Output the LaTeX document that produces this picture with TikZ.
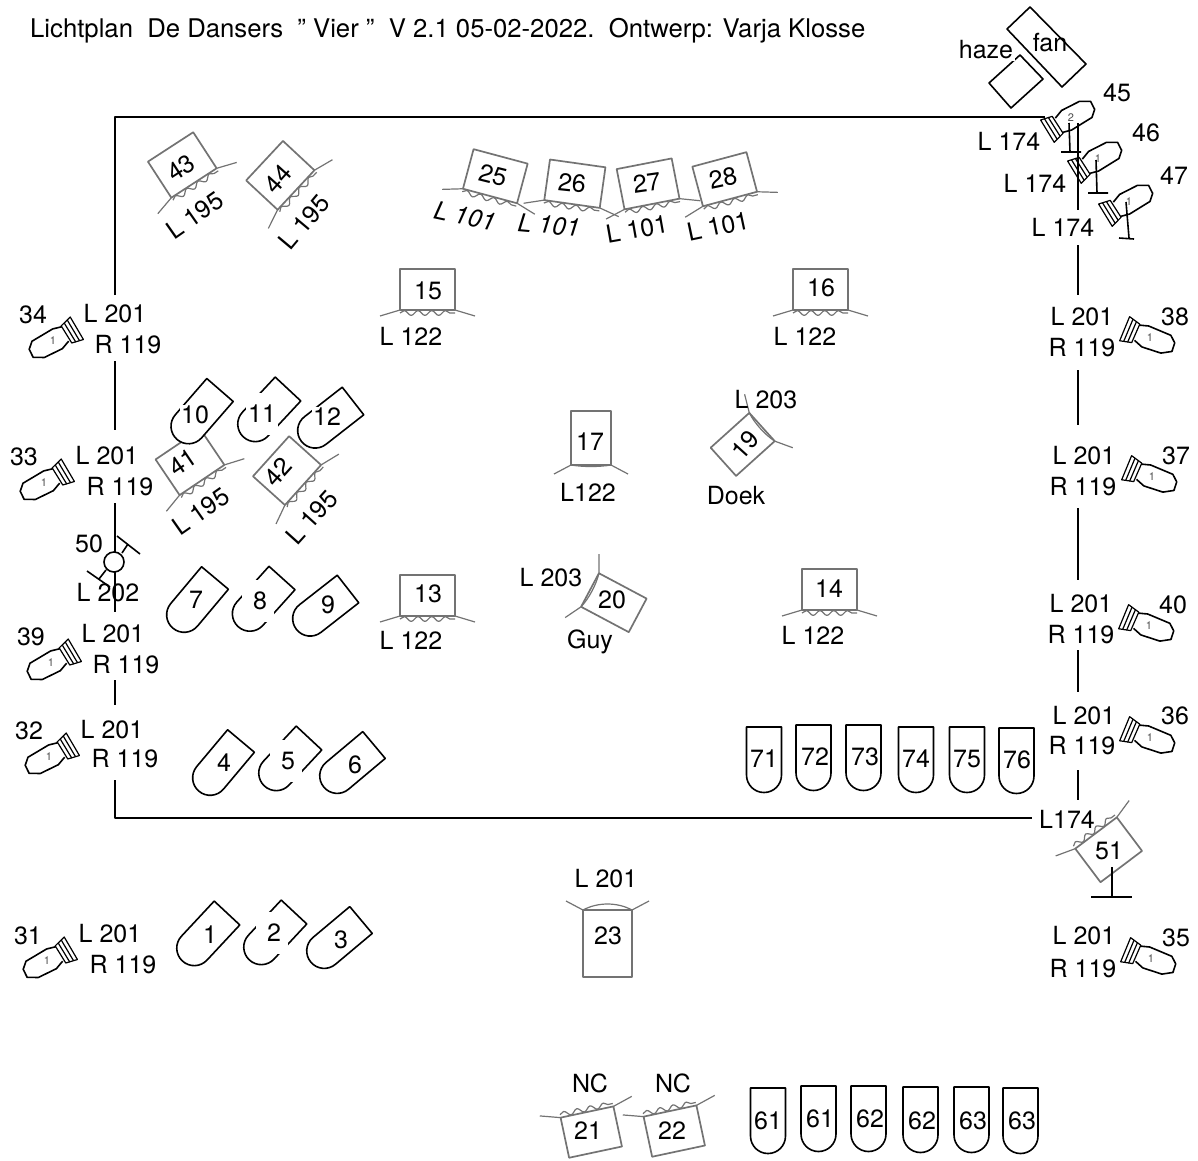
\documentclass[tikz,border=0pt]{standalone}
\usepackage{fontspec}
\setmainfont{TeX Gyre Heros}
\usetikzlibrary{decorations.pathmorphing}
\definecolor{gelgray}{gray}{0.45}
\tikzset{
  wire/.style={black,line width=2pt},
  thinwire/.style={black,line width=1.6pt},
  gel/.style={gelgray,line width=1.7pt},
  parnum/.style={fill=white,inner sep=1pt},
  parwide/.style={parnum,minimum width=32,minimum height=42},
  pics/gelframe/.style 2 args={code={
    \draw[gel,fill=white] (-#1,-#2) rectangle (#1,0);
    \draw[gel,line width=1.2pt,decorate,decoration={snake,amplitude=2.4,segment length=#1/2}] (-#1,3) -- (#1,3);
    \draw[gel,line width=1.2pt] (-#1-20,6) -- (-#1,0) (#1,0) -- (#1+20,6);
  }},
  pics/bareframe/.style n args={3}{code={
    \draw[gel,fill=white] (-#1,-#2) rectangle (#1,0);
    \draw[gel,line width=1.2pt] (-#1,0) .. controls (-#1*.4,#3) and (#1*.4,#3) .. (#1,0);
    \draw[gel,line width=1.2pt] (-#1-17,9) -- (-#1,0) (#1,0) -- (#1+17,9);
  }},
  pics/par/.style={code={
    \draw[thinwire,fill=white] (-17.5,0) -- (17.5,0) -- (17.5,48)
      .. controls (17.5,57.7) and (9.7,65.5) .. (0,65.5)
      .. controls (-9.7,65.5) and (-17.5,57.7) .. (-17.5,48) -- cycle;
  }},
  pics/profile/.style={code={
    \draw[thinwire] (14,-9) -- (5,-11) -- (-19,-9) -- (-25,-3) -- (-25,6) -- (-15,11) -- (5,11) -- (14,7);
    \draw[black,line width=1.2pt] (14,-10) -- (26,-14) -- (28,12) -- (16,10) -- cycle;
    \draw[black,line width=1.2pt] (18,-11) -- (20,11) (22,-12.5) -- (24,11.5);
    \node[font=\fontsize{11}{12}\selectfont,text=black!70] (-num) at (0,0) {#1};
  }}
}
\begin{document}
\begin{tikzpicture}[x=1pt,y=-1pt,line join=round,font=\fontsize{25}{29}\selectfont,every node/.style={inner sep=0pt}]
  \useasboundingbox (0,0) rectangle (1198,1160);
  % Title
  \node[anchor=west,font=\fontsize{25.7}{29}\selectfont] (title) at (30,31) {Lichtplan\ \ De Dansers\ \ \char34\ Vier \char34\ \ V 2.1 05-02-2022.\ \ Ontwerp: Varja Klosse};
  % Outline of the stage
  \draw[wire] (115,295) -- (115,117) -- (1045,117);
  \draw[wire] (115,361) -- (115,430);
  \draw[wire] (115,503) -- (115,612);
  \draw[wire] (115,680) -- (115,705);
  \draw[wire] (115,780) -- (115,818) -- (1032,818);
  \draw[wire] (1078,123) -- (1078,210);
  \draw[wire] (1078,245) -- (1078,295);
  \draw[wire] (1078,370) -- (1078,425);
  \draw[wire] (1078,508) -- (1078,580);
  \draw[wire] (1078,650) -- (1078,692);
  \draw[wire] (1078,770) -- (1078,800);
  % Fan and haze
  \draw[thinwire] (1030,7) -- (1086,64) -- (1062,87) -- (1007,29) -- cycle;
  \draw[thinwire] (1020,55) -- (1043,79) -- (1011,108) -- (989,83) -- cycle;
  \node[fill=white,inner sep=2pt] (haze) at (986,50) {haze};
  \node (fan) at (1050,43) {fan};
  % Frames with gel
  \pic[rotate=33] (g43) at (194,183) {gelframe={27}{43}};
  \pic[rotate=47] (g44) at (296,190) {gelframe={27}{43}};
  \pic[rotate=34] (g41) at (202,480) {gelframe={27}{43}};
  \pic[rotate=48] (g42) at (303,485) {gelframe={27}{43}};
  \pic[rotate=-15] (g25) at (490,196) {gelframe={28}{41}};
  \pic[rotate=-8] (g26) at (572,204) {gelframe={28}{41}};
  \pic[rotate=11] (g27) at (652,204) {gelframe={28}{41}};
  \pic[rotate=15] (g28) at (730,199) {gelframe={28}{41}};
  \pic (g15) at (427.5,310) {gelframe={27.5}{41}};
  \pic (g16) at (820.5,310) {gelframe={27.5}{41}};
  \pic (g13) at (427.5,616) {gelframe={27.5}{41}};
  \pic (g14) at (829.5,610) {gelframe={27.5}{41}};
  \pic[rotate=12,yscale=-1] (g21) at (587,1112) {gelframe={27}{41}};
  \pic[rotate=12,yscale=-1] (g22) at (670,1111) {gelframe={27}{41}};
  \pic[rotate=37,yscale=-1] (g51) at (1096,833) {gelframe={26}{42}};
  \pic (g17) at (591,465) {bareframe={20}{54}{2}};
  \pic[rotate=132] (g19) at (762,427) {bareframe={19}{52}{-3}};
  \pic[rotate=-118] (g20) at (590,590) {bareframe={19}{54}{-3}};
  \pic[yscale=-1] (g23) at (607.5,910) {bareframe={24.5}{67}{8}};
  % Pars on the floor
  \pic[rotate=-43] (p1) at (227,913) {par};
  \pic[rotate=-43] (p2) at (294,912) {par};
  \pic[rotate=-50] (p3) at (361,920) {par};
  \pic[rotate=-40] (p4) at (241,741) {par};
  \pic[rotate=-43] (p5) at (309,738) {par};
  \pic[rotate=-50] (p6) at (374,745) {par};
  \pic[rotate=-40] (p7) at (215,578) {par};
  \pic[rotate=-42] (p8) at (282,578) {par};
  \pic[rotate=-52] (p9) at (348,589) {par};
  \pic[rotate=-41] (p10) at (220,390) {par};
  \pic[rotate=-43] (p11) at (288,389) {par};
  \pic[rotate=-52] (p12) at (353,401) {par};
  \pic (p71) at (764,727) {par};
  \pic (p72) at (813.5,725) {par};
  \pic (p73) at (863.5,725) {par};
  \pic (p74) at (916,727) {par};
  \pic (p75) at (967,727) {par};
  \pic (p76) at (1016.5,728) {par};
  \pic (p61a) at (768,1088) {par};
  \pic (p61b) at (818.5,1086) {par};
  \pic (p62a) at (868.5,1086) {par};
  \pic (p62b) at (920.5,1087) {par};
  \pic (p63a) at (971.5,1087) {par};
  \pic (p63b) at (1020.5,1088) {par};
  % Profiles left, right and on the corner
  \pic[rotate=26] (s34) at (53,341) {profile=1};
  \pic[rotate=26] (s33) at (44,483) {profile=1};
  \pic[rotate=26] (s39) at (51,663) {profile=1};
  \pic[rotate=26] (s32) at (49,757) {profile=1};
  \pic[rotate=26] (s31) at (47,961) {profile=1};
  \pic[rotate=-18,xscale=-1] (s38) at (1150,338) {profile=1};
  \pic[rotate=-18,xscale=-1] (s37) at (1152,477) {profile=1};
  \pic[rotate=-18,xscale=-1] (s40) at (1149,626) {profile=1};
  \pic[rotate=-18,xscale=-1] (s36) at (1150,738) {profile=1};
  \pic[rotate=-18,xscale=-1] (s35) at (1151,959) {profile=1};
  \pic[rotate=207] (s45) at (1071,118) {profile=2};
  \pic[rotate=207] (s46) at (1098,159) {profile=1};
  \pic[rotate=207] (s47) at (1129,202) {profile=1};
  % Stands
  \draw[thinwire] (1069,123) -- (1070,152) (1061,152) -- (1081,152);
  \draw[thinwire] (1096,160) -- (1097,193) (1088,193) -- (1108,193);
  \draw[thinwire] (1126,202) -- (1129,238) (1119,238) -- (1134,239);
  \draw[wire] (1112,867) -- (1112,897) (1091,897) -- (1132,897);
  % Light 50
  \draw[thinwire] (106,570) -- (99,579) (87,571) -- (110,587);
  \draw[thinwire] (122,553) -- (128,544) (117,536) -- (140,554);
  \node[thinwire,draw,fill=white,circle,minimum size=20] (c50) at (114,562) {};
  % Numbers on the pars
  \node[parnum] (n1) at (210,935) {1};
  \node[parwide] (n2) at (272,933) {\hspace{4pt}2};
  \node[parnum] (n3) at (341,940) {3};
  \node[parnum] (n4) at (224,763) {4};
  \node[parwide] (n5) at (286,761) {\hspace{4pt}5};
  \node[parnum] (n6) at (355,765) {6};
  \node[parnum] (n7) at (196,600) {7};
  \node[parwide] (n8) at (258,601) {\hspace{4pt}8};
  \node[parnum] (n9) at (328,605) {9};
  \node[parnum] (n10) at (195,415) {10};
  \node[parwide] (n11) at (262,414) {11};
  \node[parnum] (n12) at (327,417) {12};
  \node (n71) at (764,759) {71};
  \node (n72) at (815,757) {72};
  \node (n73) at (865,757) {73};
  \node (n74) at (916,759) {74};
  \node (n75) at (967,759) {75};
  \node (n76) at (1017,760) {76};
  \node (n61a) at (768,1121) {61};
  \node (n61b) at (820,1119) {61};
  \node (n62a) at (870,1119) {62};
  \node (n62b) at (922,1121) {62};
  \node (n63a) at (973,1121) {63};
  \node (n63b) at (1022,1121) {63};
  % Numbers and colours of the frames
  \node[rotate=33] (n43) at (181,168) {43};
  \node[rotate=35] (c43) at (195,215) {L 195};
  \node[rotate=48] (n44) at (278,179) {44};
  \node[rotate=50] (c44) at (304,222) {L 195};
  \node[rotate=34] (n41) at (183,462) {41};
  \node[rotate=35] (c41) at (201,511) {L 195};
  \node[rotate=48] (n42) at (278,472) {42};
  \node[rotate=48] (c42) at (312,517) {L 195};
  \node[rotate=-14] (n25) at (493,175) {25};
  \node[rotate=-12,font=\fontsize{25}{29}\selectfont\itshape] (c25) at (465,216) {L 101};
  \node[rotate=-6] (n26) at (572,183) {26};
  \node[rotate=-5,font=\fontsize{25}{29}\selectfont\itshape] (c26) at (549,225) {L 101};
  \node[rotate=8] (n27) at (647,183) {27};
  \node[rotate=10] (c27) at (637,229) {L 101};
  \node[rotate=12] (n28) at (723,178) {28};
  \node[rotate=12] (c28) at (718,226) {L 101};
  \node (n15) at (428,291) {15};
  \node (c15) at (411,336) {L 122};
  \node (n16) at (821,288) {16};
  \node (c16) at (805,336) {L 122};
  \node (n13) at (428,594) {13};
  \node (c13) at (411,640) {L 122};
  \node (n14) at (829,589) {14};
  \node (c14) at (813,635) {L 122};
  \node (n17) at (590,442) {17};
  \node (c17) at (588,492) {L122};
  \node[rotate=48] (n19) at (745,445) {19};
  \node (c19) at (766,400) {L 203};
  \node (d19) at (736,496) {Doek};
  \node (n20) at (612,600) {20};
  \node (c20) at (551,578) {L 203};
  \node (d20) at (590,642) {Guy};
  \node (n21) at (588,1131) {21};
  \node (c21) at (590,1083) {NC};
  \node (n22) at (672,1131) {22};
  \node (c22) at (673,1083) {NC};
  \node (n23) at (608,936) {23};
  \node (c23) at (606,879) {L 201};
  \node (n51) at (1109,851) {51};
  \node (c51) at (1067,819) {L174};
  \node (n50) at (89,544) {50};
  \node (c50b) at (108,593) {L 202};
  % Colours of the side lights
  \node (n34) at (33,315) {34};
  \node (a34) at (115,314) {L 201};
  \node (b34) at (128,345) {R 119};
  \node (n33) at (24,457) {33};
  \node (a33) at (107,456) {L 201};
  \node (b33) at (120,487) {R 119};
  \node (n39) at (31,637) {39};
  \node (a39) at (113,634) {L 201};
  \node (b39) at (126,665) {R 119};
  \node (n32) at (29,731) {32};
  \node (a32) at (112,730) {L 201};
  \node (b32) at (125,759) {R 119};
  \node (n31) at (28,936) {31};
  \node (a31) at (110,934) {L 201};
  \node (b31) at (123,965) {R 119};
  \node (n38) at (1175,317) {38};
  \node (a38) at (1082,317) {L 201};
  \node (b38) at (1082,348) {R 119};
  \node (n37) at (1176,456) {37};
  \node (a37) at (1084,456) {L 201};
  \node (b37) at (1083,487) {R 119};
  \node (n40) at (1173,605) {40};
  \node (a40) at (1081,604) {L 201};
  \node (b40) at (1081,635) {R 119};
  \node (n36) at (1175,716) {36};
  \node (a36) at (1084,716) {L 201};
  \node (b36) at (1082,746) {R 119};
  \node (n35) at (1176,938) {35};
  \node (a35) at (1084,936) {L 201};
  \node (b35) at (1083,969) {R 119};
  \node (n45) at (1117,93) {45};
  \node (a45) at (1009,141) {L 174};
  \node (n46) at (1146,133) {46};
  \node (a46) at (1035,183) {L 174};
  \node (n47) at (1174,176) {47};
  \node (a47) at (1063,227) {L 174};
\end{tikzpicture}
\end{document}
